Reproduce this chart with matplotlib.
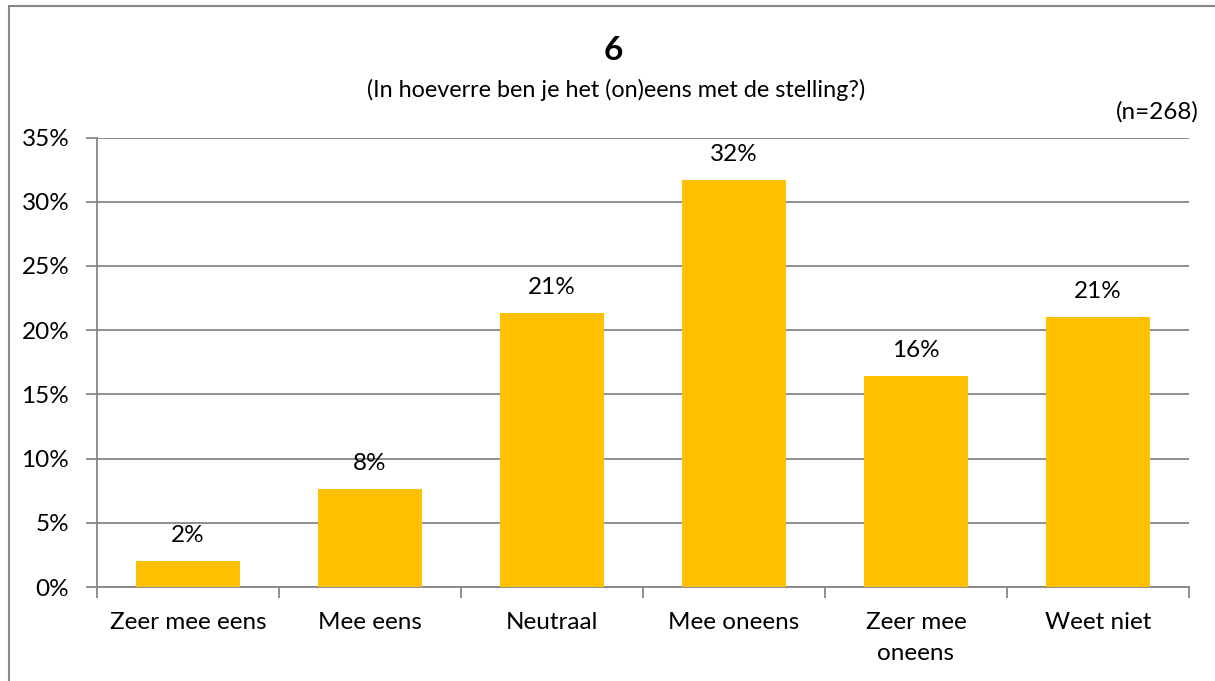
import matplotlib
matplotlib.use("Agg")
import matplotlib.pyplot as plt
from matplotlib.patches import Rectangle
from matplotlib.ticker import FixedLocator, NullFormatter, FixedFormatter

categories = ["Zeer mee eens", "Mee eens", "Neutraal", "Mee oneens", "Zeer mee\noneens", "Weet niet"]
values = [2.0, 7.6, 21.3, 31.7, 16.4, 21.0]
labels = ["2%", "8%", "21%", "32%", "16%", "21%"]
yticks = [0, 5, 10, 15, 20, 25, 30, 35]
title = "6"
subtitle = "(In hoeverre ben je het (on)eens met de stelling?)"
ntext = "(n=268)"

plt.rcParams['font.family'] = ['Lato', 'DejaVu Sans']
W, H = 1215, 681
fig = plt.figure(figsize=(W/100, H/100), dpi=100)
fig.patches.append(Rectangle((8.5/W, -0.1), 1.2, (H-6.5)/H + 0.1, transform=fig.transFigure,
                             fill=False, edgecolor='#868686', linewidth=1.5))

ax = fig.add_axes([97/W, 1-587/H, (1189-97)/W, (587-137.5)/H])
gray = '#868686'
x = list(range(len(categories)))
ax.bar(x, values, width=0.57, color='#FFC000', zorder=3)
ax.set_xlim(-0.5, len(categories)-0.5)
ax.set_ylim(0, 35)
ax.set_yticks(yticks)
ax.set_yticklabels([f"{v}%" for v in yticks])
ax.yaxis.grid(True, color=gray, linewidth=1.3, zorder=0)
ax.tick_params(axis='y', length=8, color=gray, width=1.3, labelsize=17.5, pad=12)
ax.xaxis.set_major_locator(FixedLocator([i - 0.5 for i in range(len(categories)+1)]))
ax.xaxis.set_major_formatter(NullFormatter())
ax.xaxis.set_minor_locator(FixedLocator(x))
ax.xaxis.set_minor_formatter(FixedFormatter(categories))
ax.tick_params(axis='x', which='major', length=8, color=gray, width=1.3)
ax.tick_params(axis='x', which='minor', length=0, labelsize=17.5, pad=18)
for lab in ax.get_xticklabels(minor=True):
    lab.set_verticalalignment('top')
    lab.set_linespacing(1.6)
for s in ['top', 'right']:
    ax.spines[s].set_visible(False)
for s in ['left', 'bottom']:
    ax.spines[s].set_color(gray)
    ax.spines[s].set_linewidth(1.3)

for xi, v, l in zip(x, values, labels):
    ax.annotate(l, (xi, v), xytext=(0, 18.5), textcoords='offset points',
                ha='center', va='center', fontsize=17.5)

fig.text(613/W, 1-50/H, title, ha='center', va='center', fontsize=24, fontweight='bold')
fig.text(616/W, 1-90/H, subtitle, ha='center', va='center', fontsize=16.8)
fig.text(1199/W, 1-112/H, ntext, ha='right', va='center', fontsize=17.5)

fig.savefig("out.png", dpi=100)
